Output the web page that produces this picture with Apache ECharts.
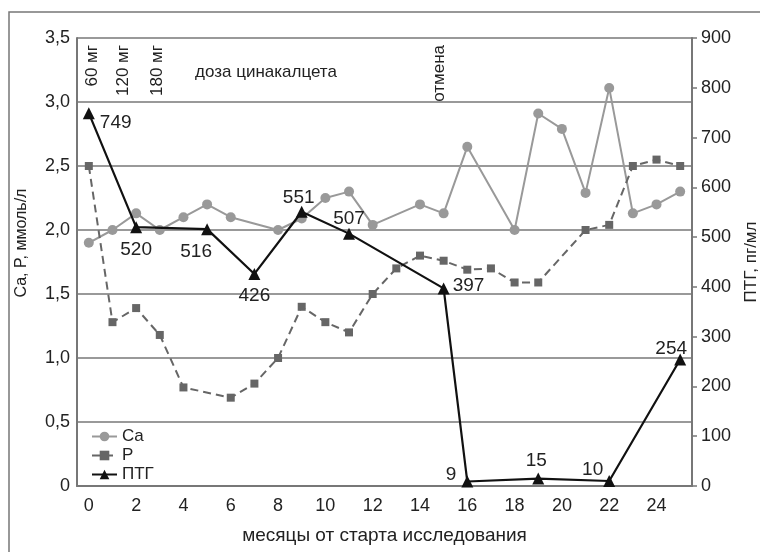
<!DOCTYPE html>
<html><head><meta charset="utf-8">
<script src="https://cdn.jsdelivr.net/npm/echarts@6/dist/echarts.min.js"></script>
<style>html,body{margin:0;padding:0;background:#fff}#c{width:760px;height:552px}</style>
</head><body><div id="c"></div>
<script>
// ---- data ----
const months = ['0','1','2','3','4','5','6','7','8','9','10','11','12','13','14','15','16','17','18','19','20','21','22','23','24','25'];
const caMonths = [0,1,2,3,4,5,6,8,9,10,11,12,14,15,16,18,19,20,21,22,23,24,25];
const caValues = [1.90,2.00,2.13,2.00,2.10,2.20,2.10,2.00,2.09,2.25,2.30,2.04,2.20,2.13,2.65,2.00,2.91,2.79,2.29,3.11,2.13,2.20,2.30];
const pMonths = [0,1,2,3,4,6,7,8,9,10,11,12,13,14,15,16,17,18,19,21,22,23,24,25];
const pValues = [2.50,1.28,1.39,1.18,0.77,0.69,0.80,1.00,1.40,1.28,1.20,1.50,1.70,1.80,1.76,1.69,1.70,1.59,1.59,2.00,2.04,2.50,2.55,2.50];
const ptgMonths = [0,2,5,7,9,11,15,16,19,22,25];
const ptgValues = [749,520,516,426,551,507,397,9,15,10,254];
const seriesNames = ['Ca','P','ПТГ'];
const doseLabels = ['60 мг','120 мг','180 мг'];
const doseTitle = 'доза цинакалцета';
const stopLabel = 'отмена';
const xName = 'месяцы от старта исследования';
const yLeftName = 'Ca, P, ммоль/л';
const yRightName = 'ПТГ, пг/мл';

// ---- styles ----
const FONT = "'Liberation Sans', Arial, sans-serif";
const TXT = '#222';
const GRID = '#777';
const ptgLabelStyle = [
  {position:'right', offset:[0,10]},
  {position:'bottom', offset:[0,2]},
  {position:'bottom', offset:[-11,2]},
  {position:'bottom', offset:[0,1]},
  {position:'top', offset:[-3,7]},
  {position:'top', offset:[0,6]},
  {position:'right', offset:[-2,-3]},
  {position:'left', offset:[0,-7]},
  {position:'top', offset:[-2,3]},
  {position:'left', offset:[5,-11]},
  {position:'top', offset:[-9,10]}
];

const chart = echarts.init(document.getElementById('c'), null, {renderer:'canvas'});
const zip = (xs, ys) => xs.map((x, i) => [x, ys[i]]);

const rotText = (text, x) => ({
  type:'text', x:x, y:45, rotation:Math.PI/2,
  style:{text:text, fill:TXT, font:'17px ' + FONT, textAlign:'right', textVerticalAlign:'middle'}
});

chart.setOption({
  animation:false,
  backgroundColor:'#fff',
  textStyle:{fontFamily:FONT},
  grid:{left:77, right:68, top:38, bottom:66, containLabel:false, outerBoundsMode:'none'},
  legend:{
    orient:'vertical', left:86, top:423, itemWidth:25, itemHeight:12, itemGap:2,
    textStyle:{fontSize:17, color:TXT, fontFamily:FONT},
    data:seriesNames
  },
  xAxis:{
    type:'category', data:months, boundaryGap:true,
    name:xName, nameLocation:'middle', nameGap:40,
    nameTextStyle:{fontSize:19, color:TXT, fontFamily:FONT},
    axisLine:{lineStyle:{color:GRID, width:2}},
    axisTick:{show:false},
    axisLabel:{interval:1, fontSize:18, color:TXT, margin:11, fontFamily:FONT},
    splitLine:{show:false}
  },
  yAxis:[
    {
      type:'value', min:0, max:3.5, interval:0.5, position:'left',
      name:yLeftName, nameLocation:'middle', nameGap:47,
      nameTextStyle:{fontSize:16, color:TXT, fontFamily:FONT, padding:[0,0,0,38]},
      axisLine:{show:true, lineStyle:{color:GRID, width:2}},
      axisTick:{show:false},
      axisLabel:{fontSize:18, color:TXT, margin:7, fontFamily:FONT,
        formatter:v => v === 0 ? '0' : v.toFixed(1).replace('.', ',')},
      splitLine:{show:true, lineStyle:{color:GRID, width:1.6}}
    },
    {
      type:'value', min:0, max:900, interval:100, position:'right',
      name:yRightName, nameLocation:'middle', nameGap:51, nameRotate:90,
      nameTextStyle:{fontSize:17, color:TXT, fontFamily:FONT},
      axisLine:{show:true, lineStyle:{color:GRID, width:2}},
      axisTick:{show:true, inside:false, length:5, lineStyle:{color:GRID, width:1.5}},
      axisLabel:{fontSize:18, color:TXT, margin:9, fontFamily:FONT},
      splitLine:{show:false}
    }
  ],
  series:[
    {
      name:seriesNames[0], type:'line', yAxisIndex:0, data:zip(caMonths, caValues),
      symbol:'circle', symbolSize:10, z:2,
      lineStyle:{color:'#999', width:2}, itemStyle:{color:'#999'}
    },
    {
      name:seriesNames[1], type:'line', yAxisIndex:0, data:zip(pMonths, pValues),
      symbol:'rect', symbolSize:8, z:3,
      lineStyle:{color:'#666', width:2, type:[8,5]}, itemStyle:{color:'#666'}
    },
    {
      name:seriesNames[2], type:'line', yAxisIndex:1,
      data:ptgMonths.map((m, i) => ({value:[m, ptgValues[i]], label:ptgLabelStyle[i]})),
      symbol:'triangle', symbolSize:12, z:4,
      lineStyle:{color:'#111', width:2.2}, itemStyle:{color:'#111'},
      label:{show:true, fontSize:19, color:TXT, fontFamily:FONT, distance:5,
        formatter:p => String(p.value[1])}
    }
  ],
  graphic:[
    {type:'rect', shape:{x:9, y:12, width:800, height:600}, style:{fill:'none', stroke:GRID, lineWidth:1.5}, z:-10, silent:true},
    rotText(doseLabels[0], 92),
    rotText(doseLabels[1], 123),
    rotText(doseLabels[2], 157),
    {type:'text', x:195, y:72, style:{text:doseTitle, fill:TXT, font:'17px ' + FONT, textAlign:'left', textVerticalAlign:'middle'}},
    rotText(stopLabel, 439)
  ]
});
</script></body></html>
